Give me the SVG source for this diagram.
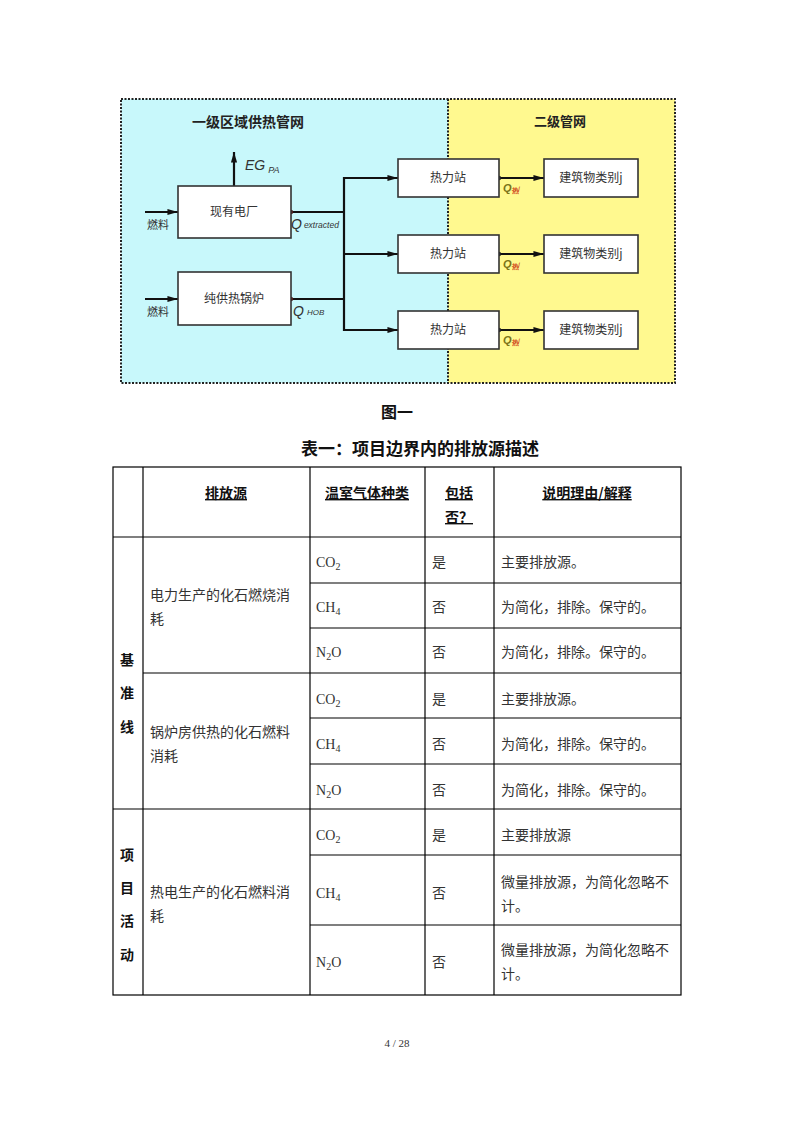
<svg xmlns="http://www.w3.org/2000/svg" width="794" height="1123" viewBox="0 0 794 1123">
<style>
.bg{fill:#ffffff}
.box{fill:#ffffff;stroke:#333333;stroke-width:1.6}
.bl{font-family:"Noto Sans CJK SC","Noto Sans",sans-serif;font-size:12px;fill:#333333;text-anchor:middle}
.zone{font-family:"Noto Sans CJK SC",sans-serif;font-size:14px;font-weight:bold;fill:#222222;text-anchor:middle}
.fuel{font-family:"Noto Sans CJK SC",sans-serif;font-size:11px;fill:#333333}
.q{font-family:"Liberation Sans","Noto Sans",sans-serif;font-style:italic;fill:#333333}
.conn{stroke:#111111;stroke-width:2.2;fill:none}
.grid{stroke:#000000;stroke-width:1.2;fill:none}
.hd{font-family:"Noto Sans CJK SC",sans-serif;font-size:14px;font-weight:bold;fill:#111111;text-anchor:middle;text-decoration:underline}
.side{font-family:"Noto Sans CJK SC",sans-serif;font-size:14px;font-weight:bold;fill:#111111;text-anchor:middle}
.tx{font-family:"Liberation Serif","Noto Sans CJK SC",serif;font-size:14px;fill:#333333}
.sub{font-size:10px}
.ttl{font-family:"Noto Sans CJK SC",sans-serif;font-weight:bold;fill:#111111;text-anchor:middle}
</style>
<defs>
<marker id="ah" viewBox="0 0 12 10" refX="12" refY="5" markerWidth="5.5" markerHeight="4" orient="auto" markerUnits="strokeWidth">
<path d="M0,1.5 L12,5 L0,8.5 Z" fill="#111111"/>
</marker>
</defs>
<rect class="bg" x="0" y="0" width="794" height="1123"/>

<!-- zones -->
<g id="zones">
<rect x="121" y="99" width="327" height="284" fill="#c8f8fb"/>
<rect x="448" y="99" width="227" height="284" fill="#fff98f"/>
<rect x="121" y="99" width="554" height="284" fill="none" stroke="#222222" stroke-width="2" stroke-dasharray="2,1.5"/>
<line x1="448" y1="99" x2="448" y2="383" stroke="#222222" stroke-width="2" stroke-dasharray="2,1.5"/>
<text class="zone" x="248" y="127">一级区域供热管网</text>
<text class="zone" x="560" y="126" style="font-size:13px">二级管网</text>
</g>

<!-- connectors -->
<g id="connectors">
<line class="conn" x1="145" y1="212" x2="178" y2="212" marker-end="url(#ah)"/>
<line class="conn" x1="145" y1="299" x2="178" y2="299" marker-end="url(#ah)"/>
<line class="conn" x1="234" y1="186" x2="234" y2="152" marker-end="url(#ah)"/>
<line class="conn" x1="291" y1="212" x2="345" y2="212"/>
<line class="conn" x1="291" y1="299" x2="345" y2="299"/>
<line class="conn" x1="344" y1="177" x2="344" y2="331"/>
<line class="conn" x1="343" y1="178" x2="398" y2="178" marker-end="url(#ah)"/>
<line class="conn" x1="343" y1="254" x2="398" y2="254" marker-end="url(#ah)"/>
<line class="conn" x1="343" y1="330" x2="398" y2="330" marker-end="url(#ah)"/>
<line class="conn" x1="499" y1="178" x2="544" y2="178" marker-end="url(#ah)"/>
<line class="conn" x1="499" y1="254" x2="544" y2="254" marker-end="url(#ah)"/>
<line class="conn" x1="499" y1="330" x2="544" y2="330" marker-end="url(#ah)"/>
<circle cx="291" cy="212" r="2.2" fill="#552222"/>
<circle cx="291" cy="299" r="2.2" fill="#552222"/>
<circle cx="499" cy="178" r="2.2" fill="#222222"/>
<circle cx="499" cy="254" r="2.2" fill="#222222"/>
<circle cx="499" cy="330" r="2.2" fill="#222222"/>
<text class="fuel" x="147" y="229">燃料</text>
<text class="fuel" x="147" y="316">燃料</text>
<text class="q" x="245" y="170" style="font-size:14px">EG<tspan dx="3" dy="3" style="font-size:9px">PA</tspan></text>
<text class="q" x="291" y="229" style="font-size:14px">Q<tspan dx="2" dy="-1" style="font-size:8.5px">extracted</tspan></text>
<text class="q" x="293" y="316" style="font-size:14px">Q<tspan dx="3" dy="-1" style="font-size:8px">HOB</tspan></text>
<text class="q" x="503" y="192" style="font-size:11px;font-weight:bold;fill:#7a7418">Q<tspan dy="1" style="font-size:7px;fill:#d04a20;font-style:normal">热</tspan><tspan dy="-3" style="font-size:5px;fill:#d04a20">j</tspan></text>
<text class="q" x="503" y="268" style="font-size:11px;font-weight:bold;fill:#7a7418">Q<tspan dy="1" style="font-size:7px;fill:#d04a20;font-style:normal">热</tspan><tspan dy="-3" style="font-size:5px;fill:#d04a20">j</tspan></text>
<text class="q" x="503" y="344" style="font-size:11px;font-weight:bold;fill:#7a7418">Q<tspan dy="1" style="font-size:7px;fill:#d04a20;font-style:normal">热</tspan><tspan dy="-3" style="font-size:5px;fill:#d04a20">j</tspan></text>
</g>

<!-- nodes -->
<g id="n-plant"><rect class="box" x="178" y="186" width="113" height="52"/><text class="bl" x="234" y="216">现有电厂</text></g>
<g id="n-boiler"><rect class="box" x="178" y="272" width="113" height="53"/><text class="bl" x="234" y="303">纯供热锅炉</text></g>
<g id="n-hs1"><rect class="box" x="398" y="159" width="101" height="38"/><text class="bl" x="448" y="182">热力站</text></g>
<g id="n-hs2"><rect class="box" x="398" y="235" width="101" height="38"/><text class="bl" x="448" y="258">热力站</text></g>
<g id="n-hs3"><rect class="box" x="398" y="311" width="101" height="38"/><text class="bl" x="448" y="334">热力站</text></g>
<g id="n-b1"><rect class="box" x="544" y="159" width="94" height="38"/><text class="bl" x="591" y="182">建筑物类别j</text></g>
<g id="n-b2"><rect class="box" x="544" y="235" width="94" height="38"/><text class="bl" x="591" y="258">建筑物类别j</text></g>
<g id="n-b3"><rect class="box" x="544" y="311" width="94" height="38"/><text class="bl" x="591" y="334">建筑物类别j</text></g>

<!-- captions -->
<text class="ttl" x="397" y="418" style="font-size:16px">图一</text>
<text class="ttl" x="420" y="455" style="font-size:17px">表一：项目边界内的排放源描述</text>

<!-- table -->
<g id="table">
<rect class="grid" x="113" y="467" width="568" height="528"/>
<line class="grid" x1="143" y1="467" x2="143" y2="995"/>
<line class="grid" x1="310" y1="467" x2="310" y2="995"/>
<line class="grid" x1="425" y1="467" x2="425" y2="995"/>
<line class="grid" x1="494" y1="467" x2="494" y2="995"/>
<line class="grid" x1="113" y1="537" x2="681" y2="537"/>
<line class="grid" x1="310" y1="583" x2="681" y2="583"/>
<line class="grid" x1="310" y1="628" x2="681" y2="628"/>
<line class="grid" x1="143" y1="673" x2="681" y2="673"/>
<line class="grid" x1="310" y1="718" x2="681" y2="718"/>
<line class="grid" x1="310" y1="764" x2="681" y2="764"/>
<line class="grid" x1="113" y1="809" x2="681" y2="809"/>
<line class="grid" x1="310" y1="855" x2="681" y2="855"/>
<line class="grid" x1="310" y1="925" x2="681" y2="925"/>

<text class="hd" x="226" y="498">排放源</text>
<text class="hd" x="367" y="498">温室气体种类</text>
<text class="hd" x="459" y="498">包括</text>
<text class="hd" x="459" y="522">否？</text>
<text class="hd" x="587" y="498">说明理由/解释</text>

<text class="side" x="127" y="665">基</text>
<text class="side" x="127" y="698">准</text>
<text class="side" x="127" y="732">线</text>
<text class="side" x="127" y="860">项</text>
<text class="side" x="127" y="893">目</text>
<text class="side" x="127" y="926">活</text>
<text class="side" x="127" y="960">动</text>

<text class="tx" x="150" y="600">电力生产的化石燃烧消</text>
<text class="tx" x="150" y="624">耗</text>
<text class="tx" x="150" y="737">锅炉房供热的化石燃料</text>
<text class="tx" x="150" y="761">消耗</text>
<text class="tx" x="150" y="897">热电生产的化石燃料消</text>
<text class="tx" x="150" y="921">耗</text>

<text class="tx" x="316" y="567">CO<tspan class="sub" dy="3">2</tspan></text>
<text class="tx" x="316" y="612">CH<tspan class="sub" dy="3">4</tspan></text>
<text class="tx" x="316" y="657">N<tspan class="sub" dy="3">2</tspan><tspan dy="-3">O</tspan></text>
<text class="tx" x="316" y="704">CO<tspan class="sub" dy="3">2</tspan></text>
<text class="tx" x="316" y="749">CH<tspan class="sub" dy="3">4</tspan></text>
<text class="tx" x="316" y="795">N<tspan class="sub" dy="3">2</tspan><tspan dy="-3">O</tspan></text>
<text class="tx" x="316" y="840">CO<tspan class="sub" dy="3">2</tspan></text>
<text class="tx" x="316" y="898">CH<tspan class="sub" dy="3">4</tspan></text>
<text class="tx" x="316" y="967">N<tspan class="sub" dy="3">2</tspan><tspan dy="-3">O</tspan></text>

<text class="tx" x="432" y="567">是</text>
<text class="tx" x="432" y="612">否</text>
<text class="tx" x="432" y="657">否</text>
<text class="tx" x="432" y="704">是</text>
<text class="tx" x="432" y="749">否</text>
<text class="tx" x="432" y="795">否</text>
<text class="tx" x="432" y="840">是</text>
<text class="tx" x="432" y="898">否</text>
<text class="tx" x="432" y="967">否</text>

<text class="tx" x="501" y="567">主要排放源。</text>
<text class="tx" x="501" y="612">为简化，排除。保守的。</text>
<text class="tx" x="501" y="657">为简化，排除。保守的。</text>
<text class="tx" x="501" y="704">主要排放源。</text>
<text class="tx" x="501" y="749">为简化，排除。保守的。</text>
<text class="tx" x="501" y="795">为简化，排除。保守的。</text>
<text class="tx" x="501" y="840">主要排放源</text>
<text class="tx" x="501" y="887">微量排放源，为简化忽略不</text>
<text class="tx" x="501" y="911">计。</text>
<text class="tx" x="501" y="955">微量排放源，为简化忽略不</text>
<text class="tx" x="501" y="979">计。</text>
</g>

<text x="397" y="1047" style="font-family:'Liberation Serif',serif;font-size:11px;fill:#333333;text-anchor:middle">4 / 28</text>
</svg>
